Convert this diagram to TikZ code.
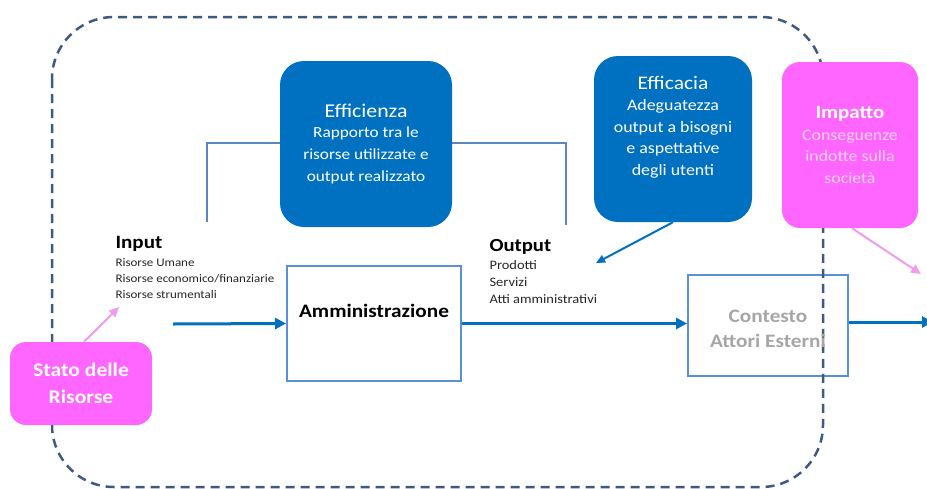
\documentclass[tikz,border=0pt]{standalone}
\usepackage{fontspec}
\setmainfont{Carlito}[FakeStretch=1.12]
\usetikzlibrary{arrows.meta}

\definecolor{effblue}{HTML}{0070C0}
\definecolor{imppink}{HTML}{FF66FF}
\definecolor{arrpink}{HTML}{F09CEC}
\definecolor{boxline}{HTML}{5B8FD8}
\definecolor{bracketblue}{HTML}{5A86BE}
\definecolor{areadash}{HTML}{3D5A80}
\definecolor{ctxgray}{HTML}{A6A6A6}
\definecolor{softpink}{HTML}{FFD2FF}

\begin{document}
\begin{tikzpicture}[x=1pt,y=-1pt,
  bluebox/.style={rectangle,rounded corners=24pt,fill=effblue,text=white,align=center,inner sep=0pt},
  pinkbox/.style={rectangle,rounded corners=16pt,fill=imppink,text=white,align=center,inner sep=0pt},
  whitebox/.style={rectangle,draw=boxline,line width=2pt,fill=white,align=center,inner sep=0pt},
  flow/.style={-{Triangle[length=11pt,width=11pt]},effblue,line width=3pt},
  thinflow/.style={-{Triangle[length=9pt,width=8pt]},effblue,line width=2pt},
  pinkflow/.style={-{Triangle[length=10pt,width=9pt]},arrpink,line width=2pt}]
  \useasboundingbox (0,0) rectangle (927,488);

  % bracket behind Efficienza
  \draw[bracketblue,line width=2.5pt] (207,222) -- (207,143) -- (566,143) -- (566,225);

  \path
  (366,144)   node[bluebox,minimum width=172pt,minimum height=166pt,font=\fontsize{15.4}{22}\selectfont](eff)
              {{\fontsize{19.5}{20}\selectfont Efficienza}\\[-2pt] Rapporto tra le\\ risorse utilizzate e\\ output realizzato}
  (673,139)   node[bluebox,minimum width=158pt,minimum height=166pt](effc) {}
  (374,323.5) node[whitebox,minimum width=174pt,minimum height=115pt](adm) {}
  (768,325.5) node[whitebox,minimum width=160pt,minimum height=101pt](ctx) {}
  ;

  % area boundary
  \draw[areadash,line width=2.5pt,dash pattern=on 9pt off 6pt,rounded corners=62pt]
    (52,17) rectangle (823,487);

  \path
  (81,383.5)  node[pinkbox,minimum width=142pt,minimum height=83pt,
                   font=\fontsize{19.3}{27}\selectfont\bfseries](stato) {Stato delle\\ Risorse}
  (850,145)   node[pinkbox,rounded corners=18pt,minimum width=136pt,minimum height=166pt,
                   font=\fontsize{15.9}{21.5}\selectfont,text=softpink](imp)
              {{\fontsize{18.7}{20}\selectfont\bfseries\color{white} Impatto}\\ Conseguenze\\ indotte sulla\\ società}

  (673,127)   node[align=center,text=white,font=\fontsize{16}{21.5}\selectfont](effctext)
              {{\fontsize{19.2}{20}\selectfont Efficacia}\\ Adeguatezza\\ output a bisogni\\ e aspettative\\ degli utenti}
  (374,311)   node[font=\fontsize{19}{20}\selectfont\bfseries](admtext) {Amministrazione}
  (768,329)   node[align=center,text=ctxgray,font=\fontsize{19}{25}\selectfont\bfseries](ctxtext)
              {Contesto\\ Attori Esterni}

  (112,298)   node[anchor=base west,align=left,text=black!85,font=\fontsize{11.6}{16}\selectfont](input)
              {{\fontsize{18.8}{18}\selectfont\bfseries\color{black} Input}\\[2pt] Risorse Umane\\ Risorse economico/finanziarie\\ Risorse strumentali}
  (486,303)   node[anchor=base west,align=left,text=black!85,font=\fontsize{12.9}{17}\selectfont](output)
              {{\fontsize{18.5}{18}\selectfont\bfseries\color{black} Output}\\[1pt] Prodotti\\ Servizi\\ Atti amministrativi}
  ;

  \coordinate (instart) at (173,324);
  \coordinate (exit) at (933,322);
  \coordinate (outtip) at (596,263);
  \coordinate (inputtip) at (119,307);
  \coordinate (imptip) at (921,274);

  \draw[flow] (instart) -- (adm.west);
  \draw[flow] (adm.east) -- (adm.east -| ctx.west);
  \draw[flow] (exit -| ctx.east) -- (exit);
  \draw[thinflow] (effc.south) -- (outtip);
  \draw[pinkflow] ([xshift=3pt]stato.north) -- (inputtip);
  \draw[pinkflow] ([xshift=2pt]imp.south) -- (imptip);

\end{tikzpicture}
\end{document}
